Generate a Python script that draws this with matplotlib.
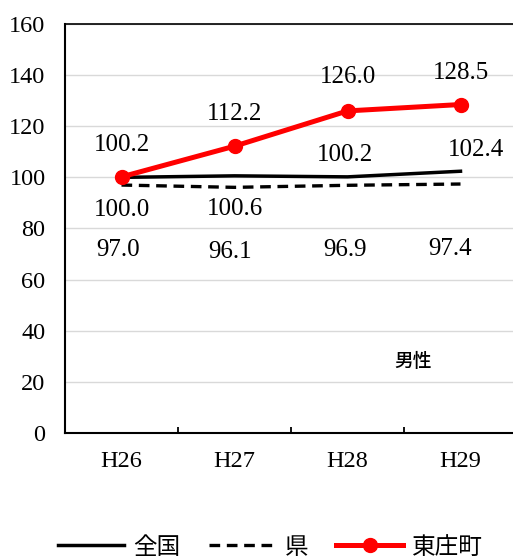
import numpy as np
import matplotlib.pyplot as plt
from matplotlib.ticker import FixedLocator

plt.rcParams['font.family'] = ['Liberation Serif', 'Noto Sans CJK JP', 'DejaVu Sans']

years = ['H26', 'H27', 'H28', 'H29']
national = [100.0, 100.6, 100.2, 102.4]
prefecture = [97.0, 96.1, 96.9, 97.4]
town = [100.2, 112.2, 126.0, 128.5]

# label offsets in pixels (dx, dy) for each series
town_off = [(0, 32), (0, 32), (0, 34), (0, 32)]
national_off = [(0, -33), (0, -33), (-3, 22), (15, 21)]
pref_off = [(-3, -65), (-4, -65), (-2, -65), (-10, -65)]

x = np.arange(len(years))

fig = plt.figure(figsize=(5.13, 5.58), dpi=100)
ax = fig.add_axes([65 / 513, 125 / 558, 452 / 513, 409 / 558])

ax.plot(x, prefecture, color='black', lw=2.4, ls=(0, (3.2, 2.0)), zorder=3, label='県')
ax.plot(x, national, color='black', lw=2.5, zorder=4, label='全国')
ax.plot(x, town, color='#ff0000', lw=3.6, marker='o', ms=10, zorder=5, label='東庄町')

for vals, offs in [(town, town_off), (national, national_off), (prefecture, pref_off)]:
    for xi, v, (dx, dy) in zip(x, vals, offs):
        ax.annotate(f'{v:.1f}', (xi, v), xytext=(dx, dy), textcoords='offset pixels',
                    ha='center', va='center', fontsize=18)

ax.text(0.770, 0.174, '男性', transform=ax.transAxes, fontsize=13.5, weight='medium',
        family=['Noto Sans CJK JP'], ha='center', va='center')

ax.set_xlim(-0.5, 3.5)
ax.set_ylim(0, 160)
ax.set_yticks(np.arange(0, 161, 20))
ax.set_xticks(x)
ax.set_xticklabels(years)
ax.xaxis.set_minor_locator(FixedLocator([0.5, 1.5, 2.5, 3.5]))
ax.tick_params(axis='x', which='major', length=0, pad=13, labelsize=17.5)
ax.tick_params(axis='x', which='minor', direction='in', length=4.5, width=1.3)
ax.tick_params(axis='y', length=0, pad=14, labelsize=17.5)

ax.grid(axis='y', color='#d9d9d9', lw=1.0, zorder=0)
ax.set_axisbelow(True)
ax.spines['right'].set_visible(False)
ax.spines['left'].set_linewidth(1.5)
ax.spines['bottom'].set_linewidth(1.5)
ax.spines['top'].set_linewidth(1.2)

handles, labels = ax.get_legend_handles_labels()
order = [1, 0, 2]
fig.legend([handles[i] for i in order], [labels[i] for i in order],
           loc='center', bbox_to_anchor=(0.527, 1 - 547 / 558), ncol=3, frameon=False,
           prop={'family': ['Noto Sans CJK JP'], 'size': 17},
           handlelength=2.8, handletextpad=0.4, columnspacing=1.2)

fig.savefig('out.png', dpi=100)
